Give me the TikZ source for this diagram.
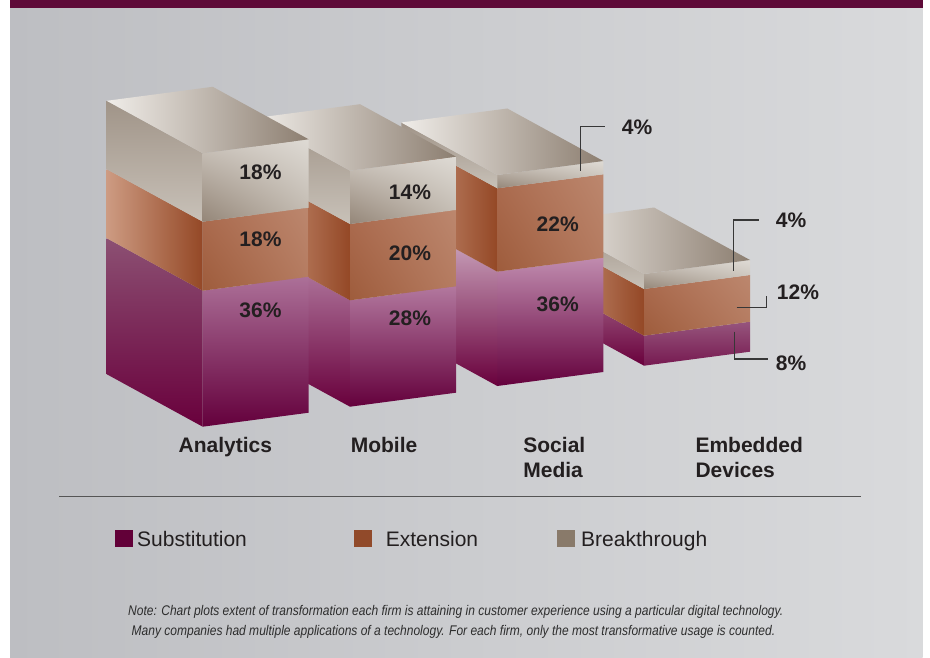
\documentclass[tikz,border=0pt]{standalone}
\usepackage{fontspec}
\setmainfont{Liberation Sans}
\usepackage{graphicx}
\usetikzlibrary{shadings}
\definecolor{bgL}{RGB}{189,190,194}
\definecolor{bgR}{RGB}{217,218,220}
\definecolor{barc}{RGB}{94,10,56}
\definecolor{txt}{RGB}{35,31,32}
\definecolor{subFB}{RGB}{100,0,60}
\definecolor{subSB}{RGB}{105,0,60}
\definecolor{extFUL}{RGB}{172,108,80}
\definecolor{extFUR}{RGB}{188,135,110}
\definecolor{extFLL}{RGB}{158,92,60}
\definecolor{extFLR}{RGB}{180,122,95}
\definecolor{extSL}{RGB}{205,155,130}
\definecolor{extSR}{RGB}{148,72,38}
\definecolor{brkFUL}{RGB}{205,198,190}
\definecolor{brkFUR}{RGB}{222,218,212}
\definecolor{brkFLL}{RGB}{148,134,120}
\definecolor{brkFLR}{RGB}{192,184,174}
\definecolor{brkST}{RGB}{160,148,136}
\definecolor{brkSB}{RGB}{200,193,184}
\definecolor{topL}{RGB}{240,237,233}
\definecolor{topR}{RGB}{140,126,112}
\definecolor{legSub}{RGB}{98,0,56}
\definecolor{legExt}{RGB}{145,74,42}
\definecolor{legBrk}{RGB}{137,122,106}
\definecolor{callc}{RGB}{55,55,55}
\definecolor{sepc}{RGB}{85,85,85}
\definecolor{notec}{RGB}{45,45,45}
\definecolor{aST}{RGB}{140,80,115}
\definecolor{mST}{RGB}{185,135,170}
\definecolor{sST}{RGB}{215,185,205}
\definecolor{eST}{RGB}{165,105,140}
\definecolor{aFT}{RGB}{172,112,152}
\definecolor{mFT}{RGB}{178,120,158}
\definecolor{sFT}{RGB}{192,140,175}
\definecolor{eFT}{RGB}{150,85,125}
\definecolor{eFB}{RGB}{118,25,80}
% segment: #1 left x of front face, #2 top-left y, #3 bottom-left y, #4 front style, #5 side style
\newcommand\barseg[5]{%
  \path[#5] (#1-96,#2-52.5) -- (#1,#2) -- (#1,#3) -- (#1-96,#3-52.5) -- cycle;
  \path[#4] (#1,#2) -- (#1+106,#2-14) -- (#1+106,#3-14) -- (#1,#3) -- cycle;
}
\newcommand\bartop[2]{%
  \path[topface] (#1,#2) -- (#1+106,#2-14) -- (#1+10,#2-66.5) -- (#1-96,#2-52.5) -- cycle;
}
\begin{document}
\begin{tikzpicture}[x=1pt,y=-1pt,
  subfront/.style={top color=#1, bottom color=subFB},
  subside/.style={top color=#1, bottom color=subSB},
  extfront/.style={upper left=extFUL, upper right=extFUR, lower left=extFLL, lower right=extFLR},
  extside/.style={left color=extSL, right color=extSR},
  brkfront/.style={upper left=brkFUL, upper right=brkFUR, lower left=brkFLL, lower right=brkFLR},
  brkside/.style={top color=brkST, bottom color=brkSB},
  topface/.style={left color=topL, right color=topR},
  pct/.style={font=\fontsize{21}{25}\selectfont\bfseries, text=txt, inner sep=0pt},
  cat/.style={font=\fontsize{21}{25.3}\selectfont\bfseries, text=txt, inner sep=0pt, align=left},
  leg/.style={font=\fontsize{21}{25}\selectfont, text=txt, inner sep=0pt},
  legsq/.style={minimum width=17.6pt, minimum height=16.7pt, inner sep=0pt, draw=none},
  callout/.style={draw=callc, line width=1.3pt},
  note/.style={font=\fontsize{14}{18}\selectfont\itshape, text=notec, inner sep=0pt}]
\useasboundingbox (0,0) rectangle (930,658);
\fill[white] (0,0) rectangle (930,658);
\shade[left color=bgL, right color=bgR] (10,0) rectangle (922.7,658);
\fill[barc] (10,0) rectangle (922.7,7.7);

% Embedded Devices
\barseg{644}{335.7}{365.7}{top color=eFT, bottom color=eFB}{subside=eST}
\barseg{644}{289}{335.7}{extfront}{extside}
\barseg{644}{274}{289}{brkfront}{brkside}
\bartop{644}{274}
% Social Media
\barseg{497.3}{271.7}{386}{subfront=sFT}{subside=sST}
\barseg{497.3}{188.3}{271.7}{extfront}{extside}
\barseg{497.3}{175}{188.3}{brkfront}{brkside}
\bartop{497.3}{175}
% Mobile
\barseg{350}{300.3}{406.7}{subfront=mFT}{subside=mST}
\barseg{350}{224}{300.3}{extfront}{extside}
\barseg{350}{170.7}{224}{brkfront}{brkside}
\bartop{350}{170.7}
% Analytics
\barseg{202.7}{290.7}{426.7}{subfront=aFT}{subside=aST}
\barseg{202.7}{221.7}{290.7}{extfront}{extside}
\barseg{202.7}{153.3}{221.7}{brkfront}{brkside}
\bartop{202.7}{153.3}

% percentages on bars
\node[pct, anchor=base] (a18b) at (260.5,180) {18\%};
\node[pct, anchor=base] (a18e) at (260.5,246.7) {18\%};
\node[pct, anchor=base] (a36s) at (260.5,317.3) {36\%};
\node[pct, anchor=base] (m14b) at (410,200) {14\%};
\node[pct, anchor=base] (m20e) at (410,260) {20\%};
\node[pct, anchor=base] (m28s) at (410,325) {28\%};
\node[pct, anchor=base] (s22e) at (557.7,231.7) {22\%};
\node[pct, anchor=base] (s36s) at (557.7,311) {36\%};

% external labels with callouts
\node[pct, anchor=base west] (s4b) at (621.7,135) {4\%};
\node[pct, anchor=base west] (e4b) at (775.7,227.3) {4\%};
\node[pct, anchor=base west] (e12e) at (776.7,299.3) {12\%};
\node[pct, anchor=base west] (e8s) at (775.7,370) {8\%};
\coordinate (s4p) at (580.7,170.7);
\coordinate (s4q) at (605,126.7);
\coordinate (e4p) at (733.3,270.7);
\coordinate (e4q) at (759,220);
\coordinate (e12p) at (736.7,307.7);
\coordinate (e12q) at (766.7,296);
\coordinate (e8p) at (734.3,331.7);
\coordinate (e8q) at (768.3,359);
\draw[callout] (s4p) |- (s4q);
\draw[callout] (e4p) |- (e4q);
\draw[callout] (e12p) -| (e12q);
\draw[callout] (e8p) |- (e8q);

% category labels
\node[cat, anchor=base west] (cAna) at (178.5,452.3) {Analytics};
\node[cat, anchor=base west] (cMob) at (350.6,452.3) {Mobile};
\node[cat, anchor=base west] (cSoc) at (523.2,477.6) {Social\\Media};
\node[cat, anchor=base west] (cEmb) at (695.3,477.6) {Embedded\\Devices};

% separator
\coordinate (sepL) at (59,496.3);
\coordinate (sepR) at (861,496.3);
\draw[sepc, line width=1.4pt] (sepL) -- (sepR);

% legend
\node[legsq, fill=legSub] (lsq1) at (123.9,538.4) {};
\node[legsq, fill=legExt] (lsq2) at (363,538.4) {};
\node[legsq, fill=legBrk] (lsq3) at (565.8,538.4) {};
\node[leg, anchor=base west] (lt1) at (137,546.7) {Substitution};
\node[leg, anchor=base west] (lt2) at (385.7,546.7) {Extension};
\node[leg, anchor=base west] (lt3) at (581,546.7) {Breakthrough};

% note
\node[note, anchor=base west] (note1) at (128,615) {\resizebox{655pt}{\height}{Note: Chart plots extent of transformation each firm is attaining in customer experience using a particular digital technology.}};
\node[note, anchor=base west] (note2) at (131.5,635.7) {\resizebox{643.5pt}{\height}{Many companies had multiple applications of a technology. For each firm, only the most transformative usage is counted.}};
\end{tikzpicture}
\end{document}
